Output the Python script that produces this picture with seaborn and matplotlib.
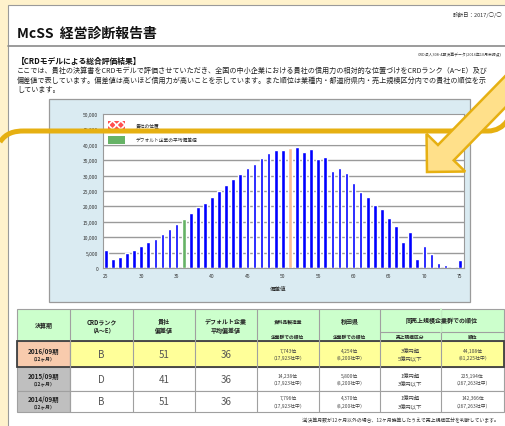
import numpy as np
import pandas as pd
import matplotlib.pyplot as plt
import seaborn as sns
from matplotlib.patches import Rectangle, FancyArrow, PathPatch
from matplotlib.path import Path

# histogram of 偏差値 (number of companies per score)
scores = list(range(25, 76))
counts = [6000, 2800, 3700, 5000, 5700, 7200, 8400, 9500, 11000, 12600,
          14400, 15900, 17800, 19800, 21200, 23200, 24900, 27000, 28900, 30600,
          32600, 33900, 35700, 37300, 38300, 38300, 38900, 39200, 37600, 38700,
          35300, 35900, 31600, 32500, 30900, 27600, 24800, 22900, 20300, 19200,
          16300, 13600, 8400, 11700, 3000, 7200, 4400, 1700, 900, 200, 2700]
company_score = 51
default_avg_score = 36
y_ticks = list(range(0, 50001, 5000))
x_ticks = list(range(25, 76, 5))

# table
header_cols = ["決算期", "CRDランク\n（A～E）", "貴社\n偏差値", "デフォルト企業\n平均偏差値"]
periods = ["2016/09期", "2015/09期", "2014/09期"]
months = ["（12ヶ月）", "（12ヶ月）", "（12ヶ月）"]
ranks = ["B", "D", "B"]
deviations = ["51", "41", "51"]
default_devs = ["36", "36", "36"]
industry_rank = ["7,743位\n（17,923社中）", "14,238位\n（17,923社中）", "7,796位\n（17,923社中）"]
pref_rank = ["4,254位\n（8,200社中）", "5,800位\n（8,200社中）", "4,370位\n（8,200社中）"]
size_class = ["3億円超\n5億円以下", "1億円超\n3億円以下", "1億円超\n3億円以下"]
size_rank = ["44,108位\n（81,225社中）", "225,194位\n（267,263社中）", "142,366位\n（267,263社中）"]

sns.set_style("white")
plt.rcParams['font.family'] = ['Noto Sans CJK JP', 'DejaVu Sans']
plt.rcParams['hatch.linewidth'] = 1.2

W, H = 505, 427
fig = plt.figure(figsize=(W / 100, H / 100), dpi=100)
fig.patch.set_facecolor("#FFF2CC")

# page layer in pixel coords
bg = fig.add_axes([0, 0, 1, 1])
bg.set_xlim(0, W)
bg.set_ylim(H, 0)
bg.axis("off")
bg.set_zorder(0)

bg.add_patch(Rectangle((8, 6), W, H, fc="white", ec="#9a9a9a", lw=0.8))
bg.plot([8, W], [47, 47], color="#8a8a8a", lw=1.2)
bg.text(502, 15, "診断日：2017/○/○", fontsize=4, ha="right", va="center", color="#333")
bg.text(17, 34, "McSS  経営診断報告書", fontsize=10, fontweight="bold", va="center", color="#111")
bg.text(502, 55, "CRD法人308-4期決算データ(2016年10月末時点)", fontsize=2.8, ha="right", va="center", color="#333")
bg.text(17, 61, "【CRDモデルによる総合評価結果】", fontsize=5.6, fontweight="bold", va="center", color="#111")
desc = ["ここでは、貴社の決算書をCRDモデルで評価させていただき、全国の中小企業における貴社の信用力の相対的な位置づけをCRDランク（A～E）及び",
        "偏差値で表しています。偏差値は高いほど信用力が高いことを示しています。また順位は業種内・都道府県内・売上規模区分内での貴社の順位を示",
        "しています。"]
for i, line in enumerate(desc):
    bg.text(17, 71 + i * 9.5, line, fontsize=5.1, va="center", color="#222")

# chart panel
bg.add_patch(Rectangle((49, 100), 421, 203, fc="#DAEBF2", ec="#9a9a9a", lw=0.9))
bg.text(278, 289, "偏差値", fontsize=4, ha="center", va="center", color="#222")

# chart
ax = fig.add_axes([103 / W, 1 - 269 / H, 361 / W, 154 / H])
ax.set_zorder(1)
df = pd.DataFrame({"score": scores, "count": counts})
df["kind"] = np.where(df["score"] == company_score, "company",
                      np.where(df["score"] == default_avg_score, "default", "other"))
pal = {"other": "#0000FF", "default": "#66B366", "company": "#F9BC94"}
sns.barplot(data=df, x="score", y="count", hue="kind", palette=pal, native_scale=True,
            dodge=False, width=0.52, saturation=1, legend=False, ax=ax, zorder=2)
ax.set_xlim(24.6, 75.6)
ax.set_ylim(0, 50000)
ax.set_yticks(y_ticks)
ax.set_yticklabels([f"{v:,}" for v in y_ticks])
ax.set_xticks(x_ticks)
ax.set_xticklabels([str(v) for v in x_ticks])
ax.tick_params(labelsize=3.6, length=0, colors="#333", pad=3.5)
ax.yaxis.grid(True, color="#9a9a9a", lw=1.0)
ax.set_axisbelow(True)
ax.set_xlabel("")
ax.set_ylabel("")
for side in ax.spines:
    ax.spines[side].set_color("#9a9a9a")
    ax.spines[side].set_linewidth(0.8)

# legend strip at top of plot area
ax.add_patch(Rectangle((0, 0.8), 1, 0.2, transform=ax.transAxes, fc="white",
                       ec="#9a9a9a", lw=0.8, zorder=3))
ax.add_patch(Rectangle((0.014, 0.9), 0.048, 0.055, transform=ax.transAxes, fc="#FF5050",
                       ec="white", hatch="xxxx", lw=0, zorder=4))
ax.add_patch(Rectangle((0.014, 0.805), 0.048, 0.055, transform=ax.transAxes, fc="#66B366",
                       lw=0, zorder=4))
ax.text(0.09, 0.93, "貴社の位置", transform=ax.transAxes, fontsize=3.4, va="center", zorder=5)
ax.text(0.09, 0.835, "デフォルト企業の平均偏差値", transform=ax.transAxes, fontsize=3.4,
        va="center", zorder=5)

# table
col_x = [17, 70, 133, 195, 257, 319, 380, 441, 504]
row_y = [310, 342, 368, 392, 413]
grid_c = "#a0a0a0"
bg.add_patch(Rectangle((col_x[0], row_y[0]), col_x[-1] - col_x[0], row_y[1] - row_y[0],
                       fc="#CCFFCC", ec=grid_c, lw=0.8))
for i in range(3):
    y0, y1 = row_y[i + 1], row_y[i + 2]
    first_fc = "#F8CBAD" if i == 0 else "#BFBFBF"
    rest_fc = "#FFFF99" if i == 0 else "white"
    bg.add_patch(Rectangle((col_x[0], y0), col_x[1] - col_x[0], y1 - y0, fc=first_fc, ec=grid_c, lw=0.8))
    bg.add_patch(Rectangle((col_x[1], y0), col_x[-1] - col_x[1], y1 - y0, fc=rest_fc, ec=grid_c, lw=0.8))
for x in col_x[1:-1]:
    bg.plot([x, x], [row_y[0], row_y[-1]], color=grid_c, lw=0.8)
bg.plot([col_x[6], col_x[8]], [333, 333], color=grid_c, lw=0.8)
bg.plot([col_x[7], col_x[7]], [row_y[0], 333], color="#CCFFCC", lw=1.2)
bg.add_patch(Rectangle((col_x[0], row_y[1]), col_x[-1] - col_x[0], row_y[2] - row_y[1],
                       fc="none", ec="#404040", lw=1.3))

def mid(a, b):
    return (a + b) / 2

hc = "#222"
for j, t in enumerate(header_cols):
    bg.text(mid(col_x[j], col_x[j + 1]), mid(row_y[0], row_y[1]), t, fontsize=4.3,
            fontweight="bold", ha="center", va="center", color=hc, linespacing=1.3)
bg.text(mid(col_x[4], col_x[5]), 322, "食料品製造業", fontsize=3.4, fontweight="bold", ha="center", va="center", color=hc)
bg.text(mid(col_x[4], col_x[5]), 337, "企業群での順位", fontsize=3.4, fontweight="bold", ha="center", va="center", color=hc)
bg.text(mid(col_x[5], col_x[6]), 322, "秋田県", fontsize=4.3, fontweight="bold", ha="center", va="center", color=hc)
bg.text(mid(col_x[5], col_x[6]), 337, "企業群での順位", fontsize=3.4, fontweight="bold", ha="center", va="center", color=hc)
bg.text(mid(col_x[6], col_x[8]), 321, "同売上規模企業群での順位", fontsize=4.3, fontweight="bold", ha="center", va="center", color=hc)
bg.text(mid(col_x[6], col_x[7]), 337.5, "売上規模区分", fontsize=3.4, fontweight="bold", ha="center", va="center", color=hc)
bg.text(mid(col_x[7], col_x[8]), 337.5, "順位", fontsize=3.4, fontweight="bold", ha="center", va="center", color=hc)

for i in range(3):
    yc = mid(row_y[i + 1], row_y[i + 2])
    bg.text(mid(col_x[0], col_x[1]), yc - 3.5, periods[i], fontsize=4.6, fontweight="bold", ha="center", va="center", color="#222")
    bg.text(mid(col_x[0], col_x[1]), yc + 4, months[i], fontsize=3.4, fontweight="bold", ha="center", va="center", color="#222")
    for j, v in zip([1, 2, 3], [ranks[i], deviations[i], default_devs[i]]):
        bg.text(mid(col_x[j], col_x[j + 1]), yc, v, fontsize=7, ha="center", va="center", color="#555")
    for j, v in zip([4, 5, 6, 7], [industry_rank[i], pref_rank[i], size_class[i], size_rank[i]]):
        fs = 3.9 if j == 6 else 3.5
        bg.text(mid(col_x[j], col_x[j + 1]), yc, v, fontsize=fs, ha="center", va="center", color="#444", linespacing=1.5)

bg.text(500, 420, "注)決算月数が12ヶ月以外の場合、12ヶ月換算したうえで売上規模区分を判断しています。",
        fontsize=3.5, ha="right", va="center", color="#333")

# highlight overlay: gold line + arrow
fg = fig.add_axes([0, 0, 1, 1])
fg.set_xlim(0, W)
fg.set_ylim(H, 0)
fg.axis("off")
fg.patch.set_alpha(0)
fg.set_zorder(3)
gold = "#E6B012"
verts = [(0, 143), (6, 134), (14, 132), (24, 132), (488, 132), (496, 132), (503, 128), (507, 122)]
codes = [Path.MOVETO, Path.CURVE4, Path.CURVE4, Path.CURVE4, Path.LINETO, Path.CURVE4, Path.CURVE4, Path.CURVE4]
fg.add_patch(PathPatch(Path(verts, codes), fc="none", ec=gold, lw=3.6, capstyle="butt"))
fg.add_patch(FancyArrow(545, 52, -118, 121, width=22, head_width=54, head_length=27,
                        length_includes_head=True, fc="#FFE08A", ec=gold, lw=1.8))

fig.savefig("out.png", dpi=100)
